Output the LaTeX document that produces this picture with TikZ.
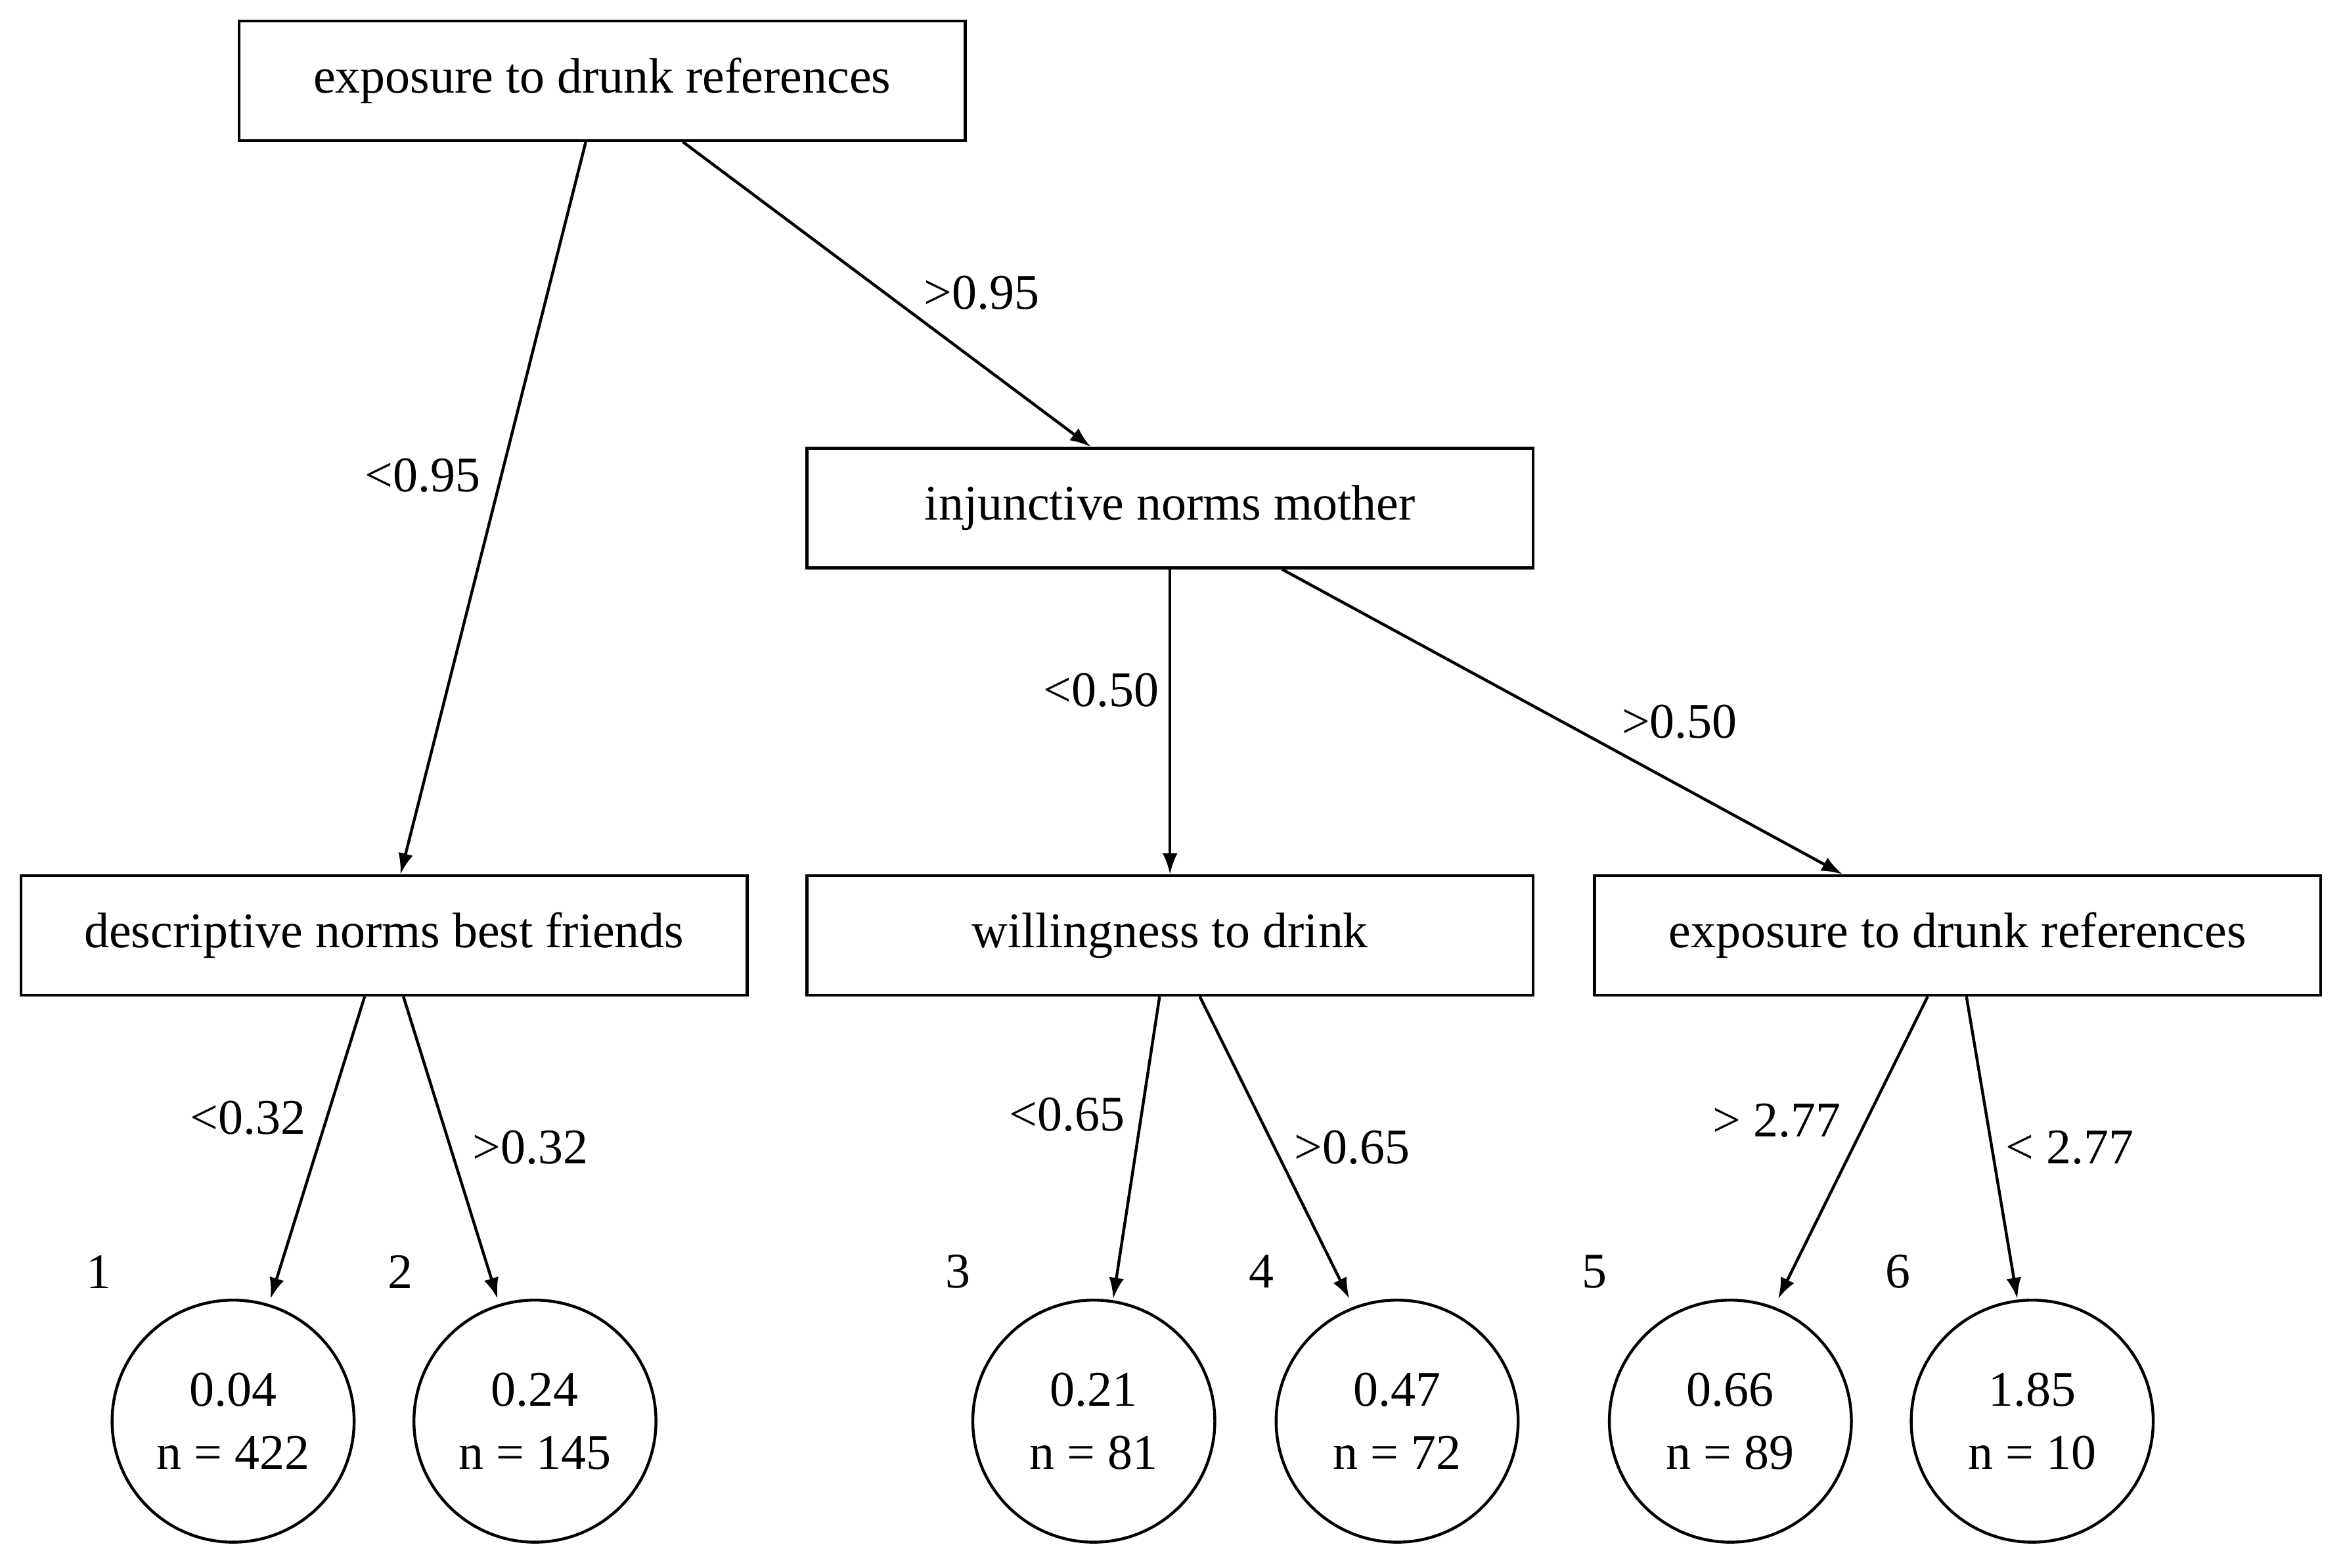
\documentclass[tikz,border=0pt]{standalone}
\usepackage{fontspec}
\setmainfont{Liberation Serif}
\usetikzlibrary{arrows.meta}
\begin{document}
\fontsize{19}{24}\selectfont
\begin{tikzpicture}[x=0.02cm,y=-0.02cm,>={Latex[length=0.28cm,width=0.2cm]},line width=1.1pt,
  split/.style={draw,minimum width=9.72cm,minimum height=1.6cm,inner sep=0pt},
  leaf/.style={draw,circle,minimum size=3.24cm,inner sep=0pt,align=center},
  lab/.style={inner sep=0pt}]
\useasboundingbox (0,0) rectangle (1568,1049);
%%
\node (split_0) at (403,54) [split] {exposure to drunk references};
\node (split_1) at (783,340) [split] {injunctive norms mother};
\node (split_2) at (257,626) [split] {descriptive norms best friends};
\node (split_3) at (783,626) [split] {willingness to drink};
\node (split_4) at (1310,626) [split] {exposure to drunk references};
\node (leaf_1) at (156,951) [leaf] {0.04\\n = 422};
\node (leaf_2) at (358,951) [leaf] {0.24\\n = 145};
\node (leaf_3) at (732,951) [leaf] {0.21\\n = 81};
\node (leaf_4) at (935,951) [leaf] {0.47\\n = 72};
\node (leaf_5) at (1158,951) [leaf] {0.66\\n = 89};
\node (leaf_6) at (1360,951) [leaf] {1.85\\n = 10};
%
\draw [->] ([xshift=-0.22cm]split_0.south) -- ([xshift=0.22cm]split_2.north);
\draw [->] ([xshift=1.08cm]split_0.south) -- ([xshift=-1.06cm]split_1.north);
\draw [->] (split_1.south) -- (split_3.north);
\draw [->] ([xshift=1.5cm]split_1.south) -- ([xshift=-1.54cm]split_4.north);
\draw [->] ([xshift=-0.26cm]split_2.south) -- ([xshift=0.5cm]leaf_1.north);
\draw [->] ([xshift=0.26cm]split_2.south) -- ([xshift=-0.5cm]leaf_2.north);
\draw [->] ([xshift=-0.14cm]split_3.south) -- ([xshift=0.26cm]leaf_3.north);
\draw [->] ([xshift=0.4cm]split_3.south) -- ([xshift=-0.64cm]leaf_4.north);
\draw [->] ([xshift=-0.4cm]split_4.south) -- ([xshift=0.64cm]leaf_5.north);
\draw [->] ([xshift=0.12cm]split_4.south) -- ([xshift=-0.2cm]leaf_6.north);
%
\node [lab] at (657,196) {>0.95};
\node [lab] at (283,318) {<0.95};
\node [lab] at (737,462) {<0.50};
\node [lab] at (1124,483) {>0.50};
\node [lab] at (166,748) {<0.32};
\node [lab] at (355,768) {>0.32};
\node [lab] at (714,746) {<0.65};
\node [lab] at (905,768) {>0.65};
\node [lab] at (1189,750) {> 2.77};
\node [lab] at (1385,768) {< 2.77};
\node [lab] at (66,851) {1};
\node [lab] at (268,851) {2};
\node [lab] at (641,851) {3};
\node [lab] at (844,851) {4};
\node [lab] at (1067,851) {5};
\node [lab] at (1270,851) {6};
%
\end{tikzpicture}
\end{document}
